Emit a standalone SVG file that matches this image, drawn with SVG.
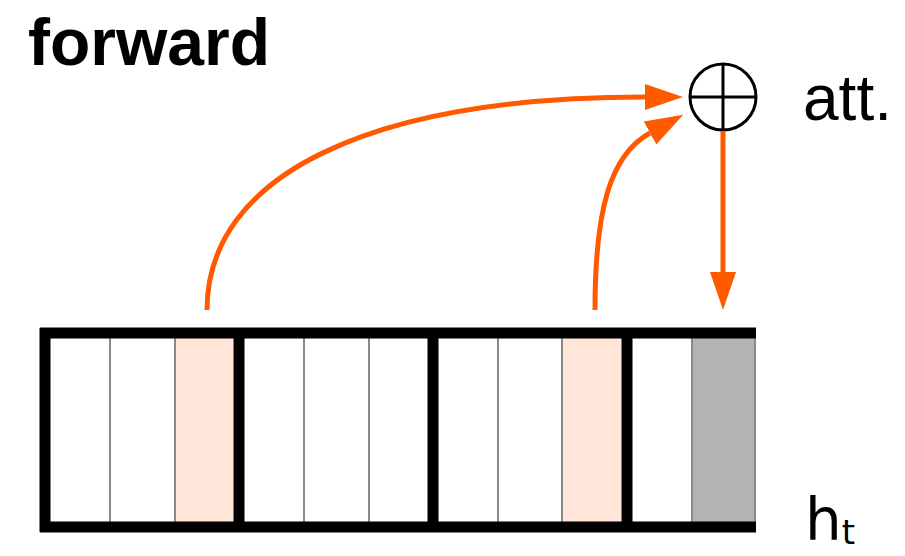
<svg xmlns="http://www.w3.org/2000/svg" width="905" height="556" viewBox="0 0 905 556">
<style>
.conn{fill:none;stroke:#FF5A00;stroke-width:5}
.thin{stroke:#8a8a8a;stroke-width:2}
.thick{stroke:#000;stroke-width:11}
.lbl{font-family:"Liberation Sans",Arial,sans-serif;fill:#000}
.sub{font-family:"DejaVu Sans","Liberation Sans",sans-serif;fill:#000}
</style>
<defs>
<marker id="ah" markerUnits="userSpaceOnUse" markerWidth="40" markerHeight="30" refX="0" refY="13" orient="auto" viewBox="0 0 40 26">
<path d="M0,0 L38,13 L0,26 Z" fill="#FF5A00"/>
</marker>
</defs>
<rect width="905" height="556" fill="#fff"/>
<g id="title"><text class="lbl" x="28" y="65" font-size="66" font-weight="bold">forward</text></g>
<g id="vector">
<rect x="45" y="333" width="711" height="194" fill="#fff"/>
<rect x="175" y="333" width="58" height="194" fill="#FFE6D9"/>
<rect x="562" y="333" width="59" height="194" fill="#FFE6D9"/>
<rect x="692" y="333" width="64" height="194" fill="#B3B3B3"/>
<g class="thin">
<line x1="110" y1="333" x2="110" y2="527"/>
<line x1="175" y1="333" x2="175" y2="527"/>
<line x1="304" y1="333" x2="304" y2="527"/>
<line x1="369" y1="333" x2="369" y2="527"/>
<line x1="498" y1="333" x2="498" y2="527"/>
<line x1="562" y1="333" x2="562" y2="527"/>
<line x1="692" y1="333" x2="692" y2="527"/>
<line x1="755" y1="333" x2="755" y2="527"/>
</g>
<g class="thick">
<line x1="45" y1="328" x2="45" y2="532"/>
<line x1="239" y1="333" x2="239" y2="527"/>
<line x1="433" y1="333" x2="433" y2="527"/>
<line x1="627" y1="333" x2="627" y2="527"/>
<line x1="40" y1="333" x2="756" y2="333"/>
<line x1="40" y1="527" x2="756" y2="527"/>
</g>
</g>
<g id="sum">
<circle cx="723" cy="97" r="33" fill="#fff" stroke="#000" stroke-width="3"/>
<line x1="690" y1="97" x2="756" y2="97" stroke="#000" stroke-width="3"/>
<line x1="723" y1="64" x2="723" y2="130" stroke="#000" stroke-width="3"/>
</g>
<g id="att"><text class="lbl" x="803" y="120" font-size="64">att.</text></g>
<g id="ht"><text class="sub" x="805" y="540" font-size="58">h<tspan font-size="34" dy="4">t</tspan></text></g>
<g id="connectors">
<path class="conn" d="M207,310 C207,175 370,97 645,97" marker-end="url(#ah)"/>
<path class="conn" d="M595,310 C595,210 610,155 650,133" marker-end="url(#ah)"/>
<path class="conn" d="M723,131 L723,272" marker-end="url(#ah)"/>
</g>
</svg>
